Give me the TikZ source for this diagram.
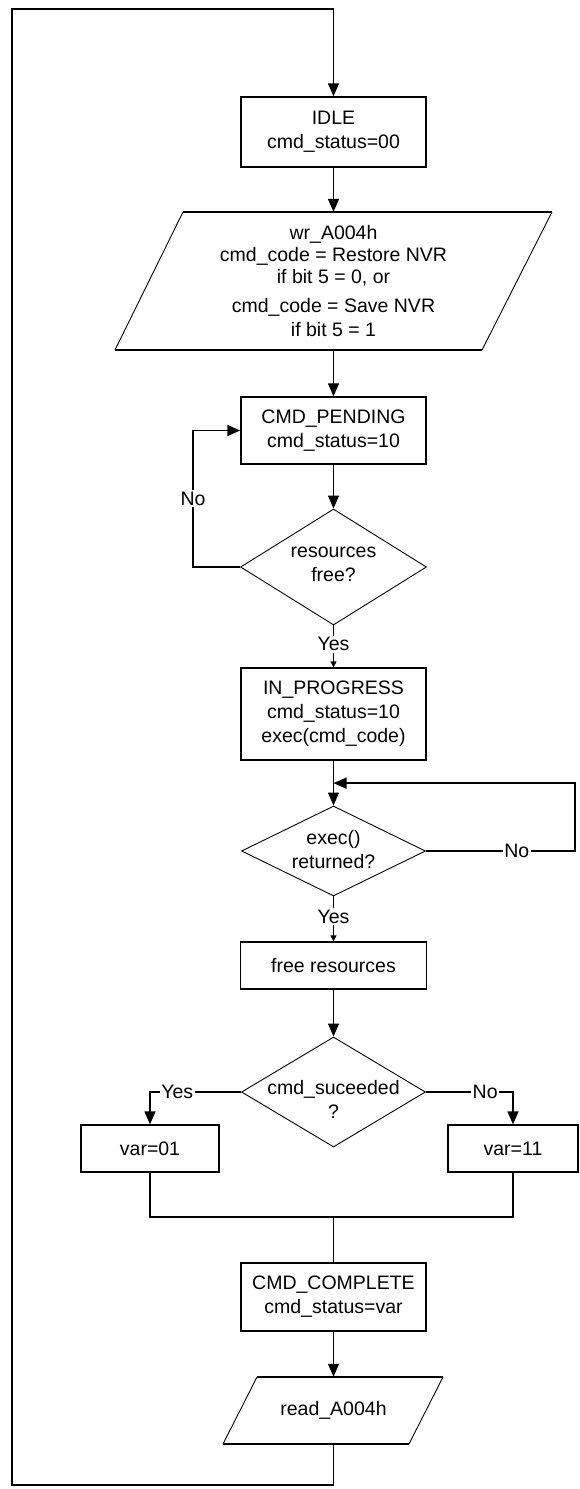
\documentclass[tikz,border=0pt]{standalone}
\usepackage{fontspec}
\setmainfont{Liberation Sans}
\usetikzlibrary{arrows.meta,shapes.geometric,calc}
\newcommand{\dtext}[2]{\makebox[0pt]{\raisebox{#1}[0pt][0pt]{\begin{tabular}{@{}c@{}}#2\end{tabular}}}}
\begin{document}
\begin{tikzpicture}[x=1pt,y=-1pt,
  font=\fontsize{19.5}{24}\selectfont,
  box/.style={draw, line width=1.4pt, minimum width=185pt, inner sep=0pt, align=center},
  ghost/.style={draw=none, inner sep=0pt, align=center},
  dia/.style={draw, diamond, line width=0.9pt, inner sep=0pt, aspect=1.6},
  edge/.style={line width=1.4pt},
  slant/.style={line width=0.9pt},
  flow/.style={line width=1.4pt},
  arr/.style={flow, -{Triangle[length=13pt,width=11pt]}},
  arrs/.style={flow, -{Triangle[length=6pt,width=6pt]}},
  lbl/.style={fill=white, inner sep=1.5pt}]
\useasboundingbox (0,0) rectangle (580,1489);
\fill[white] (0,0) rectangle (580,1489);

% nodes
\node[box, minimum height=70pt] (idle) at (333.5,132) {IDLE\\cmd\_status=00};
\node[ghost, minimum width=300pt, minimum height=138pt,
      font=\fontsize{19.5}{22}\selectfont] (wr) at (333.5,281)
  {wr\_A004h\\cmd\_code = Restore NVR\\if bit 5 = 0, or\\[7pt]cmd\_code = Save NVR\\[1.5pt]if bit 5 = 1};
\node[box, minimum height=67pt] (pend) at (333.5,430.5) {CMD\_PENDING\\cmd\_status=10};
\node[dia, minimum width=186pt, minimum height=116pt] (res) at (333.5,567)
  {\dtext{-2.5pt}{resources\\free?}};
\node[box, minimum height=92pt] (inprog) at (333.5,714) {IN\_PROGRESS\\cmd\_status=10\\exec(cmd\_code)};
\node[dia, minimum width=184pt, minimum height=90pt] (exec) at (333.5,851)
  {\dtext{-6pt}{exec()\\returned?}};
\node[box, minimum width=186pt, minimum height=47pt] (free) at (333.5,965.5) {free resources};
\node[dia, minimum width=184pt, minimum height=110pt] (succ) at (333.5,1092)
  {\dtext{-15pt}{cmd\_suceeded\\?}};
\node[box, minimum width=138pt, minimum height=47pt] (v01) at (150,1148.5) {var=01};
\node[box, minimum width=130pt, minimum height=47pt] (v11) at (513,1148.5) {var=11};
\node[box, minimum height=68pt] (comp) at (333.5,1297) {CMD\_COMPLETE\\cmd\_status=var};
\node[ghost, minimum width=150pt, minimum height=67pt] (rd) at (333.5,1410.5) {read\_A004h};

% parallelogram outlines
\draw[edge] (183,212) -- (552,212);
\draw[edge] (115,350) -- (482,350);
\draw[slant] (183,212) -- (115,350);
\draw[slant] (552,212) -- (482,350);
\draw[edge] (257,1377) -- (443,1377);
\draw[edge] (223,1444) -- (409,1444);
\draw[slant] (257,1377) -- (223,1444);
\draw[slant] (443,1377) -- (409,1444);

\coordinate (j1) at ($(inprog.south)!0.5!(exec.north)$);
\coordinate (merge) at (333.5,1217);
\coordinate (lb) at (12,1485);
\coordinate (lt) at (12,9);

% connectors
\draw[arr] (rd.south) |- (lb) -- (lt) -| (idle.north);
\draw[arr] (idle.south) -- (wr.north);
\draw[arr] (wr.south) -- (pend.north);
\draw[arr] (pend.south) -- (res.north);
\draw[arr] (res.west) -- ++(-47,0) |- node[lbl,pos=0.25]{No} (pend.west);
\draw[arrs] (res.south) -- node[lbl,pos=0.45]{Yes} (inprog.north);
\draw[arr] (inprog.south) -- (exec.north);
\draw[arr] (exec.east) -- node[lbl,pos=0.61]{No} ++(149,0) |- (j1);
\draw[arrs] (exec.south) -- node[lbl,pos=0.45]{Yes} (free.north);
\draw[arr] (free.south) -- (succ.north);
\draw[arr] (succ.west) -| node[lbl,pos=0.35]{Yes} (v01.north);
\draw[arr] (succ.east) -| node[lbl,pos=0.34]{No} (v11.north);
\draw[flow] (v01.south) |- (merge) -| (v11.south);
\draw[flow] (merge) -- (comp.north);
\draw[arr] (comp.south) -- (rd.north);
\end{tikzpicture}
\end{document}
